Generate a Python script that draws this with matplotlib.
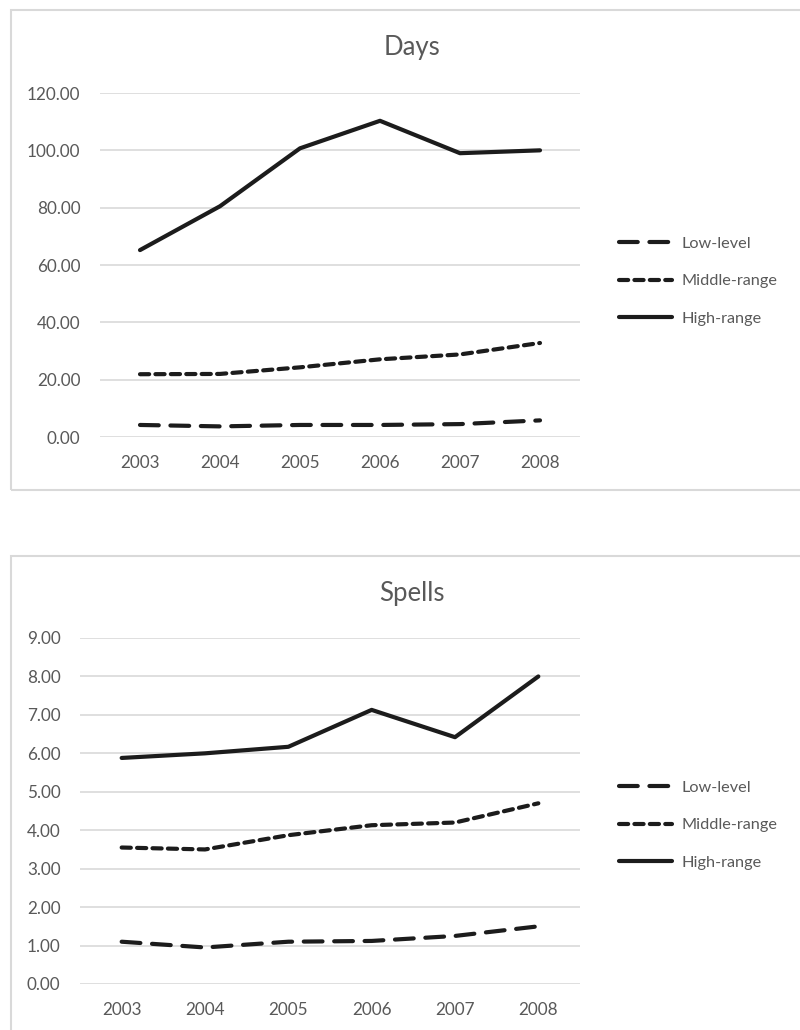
import matplotlib.pyplot as plt
from matplotlib.patches import Rectangle

years = ["2003", "2004", "2005", "2006", "2007", "2008"]
labels = ["Low-level", "Middle-range", "High-range"]

days_low = [4.2, 3.7, 4.2, 4.2, 4.5, 5.8]
days_mid = [21.9, 22.0, 24.3, 27.1, 28.8, 32.8]
days_high = [65.2, 80.5, 100.7, 110.3, 99.0, 100.0]
days_ticks = [0, 20, 40, 60, 80, 100, 120]

spells_low = [1.10, 0.95, 1.10, 1.12, 1.25, 1.50]
spells_mid = [3.55, 3.50, 3.87, 4.13, 4.20, 4.70]
spells_high = [5.88, 6.00, 6.17, 7.13, 6.42, 8.00]
spells_ticks = [0, 1, 2, 3, 4, 5, 6, 7, 8, 9]

plt.rcParams["font.family"] = ["Lato", "DejaVu Sans"]
GREY = "#595959"
GRID = "#d9d9d9"
INK = "#1c1c1c"
W, H = 800, 1030

fig = plt.figure(figsize=(W / 100, H / 100), dpi=100)


def box(x0, y0, x1, y1):
    fig.patches.append(Rectangle((x0 / W, 1 - y1 / H), (x1 - x0) / W,
                                 (y1 - y0) / H, transform=fig.transFigure,
                                 fill=False, edgecolor=GRID, lw=1.5))


def panel(rect, title, title_y, low, mid, high, ticks, leg_y):
    left, top, right, bottom = rect
    ax = fig.add_axes([left / W, 1 - bottom / H, (right - left) / W,
                       (bottom - top) / H])
    xs = range(len(years))
    ax.plot(xs, low, color=INK, lw=3, dashes=(4.5, 2.8),
            solid_capstyle="round", dash_capstyle="round", label=labels[0])
    ax.plot(xs, mid, color=INK, lw=3, dashes=(2.2, 1.5),
            dash_capstyle="round", label=labels[1])
    ax.plot(xs, high, color=INK, lw=3, solid_capstyle="round",
            label=labels[2])
    ax.set_xlim(-0.5, len(years) - 0.5)
    ax.set_ylim(ticks[0], ticks[-1])
    ax.set_yticks(ticks)
    ax.set_yticklabels([f"{t:.2f}" for t in ticks])
    ax.set_xticks(list(xs))
    ax.set_xticklabels(years)
    ax.tick_params(length=0, colors=GREY, labelsize=12.3)
    ax.tick_params(axis="x", pad=13)
    ax.tick_params(axis="y", pad=14)
    for s in ax.spines.values():
        s.set_visible(False)
    ax.grid(axis="y", color=GRID, lw=1.2)
    ax.set_axisbelow(True)
    fig.text(412 / W, 1 - title_y / H, title, ha="center", va="center",
             fontsize=18.5, color=GREY)
    ax.legend(loc="center left", bbox_to_anchor=(612 / W, 1 - leg_y / H),
              bbox_transform=fig.transFigure, frameon=False, fontsize=11.7,
              labelcolor=GREY, handlelength=3.3, handletextpad=0.55,
              labelspacing=1.42, borderaxespad=0)
    return ax


box(11, 10, 820, 490)
box(11, 556, 820, 1050)

panel((100, 93, 580, 437), "Days", 47, days_low, days_mid, days_high,
      days_ticks, 281)
panel((80, 638, 580, 984), "Spells", 593, spells_low, spells_mid,
      spells_high, spells_ticks, 825)

fig.savefig("out.png", dpi=100)
